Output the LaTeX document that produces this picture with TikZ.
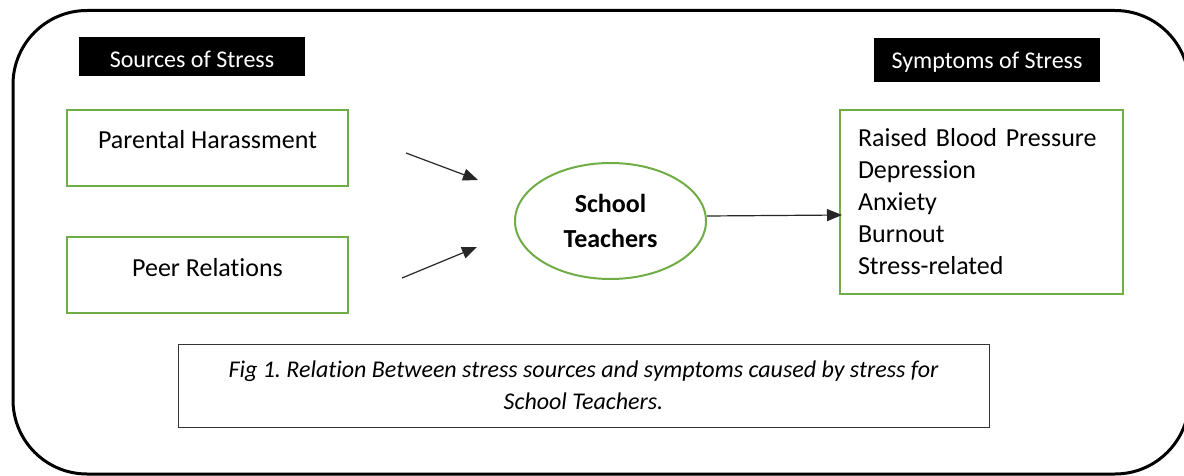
\documentclass[tikz,border=0pt]{standalone}
\usepackage{fontspec}
\setmainfont[Ligatures=NoCommon]{Carlito}
\usepackage{tikz}
\usetikzlibrary{arrows.meta,shapes.geometric}
\definecolor{boxgreen}{RGB}{112,173,71}
\tikzstyle{frame}=[draw,line width=3pt,rounded corners=74pt]
\tikzstyle{head}=[fill=black,text=white,minimum width=226pt,minimum height=39pt,inner sep=0pt,font=\fontsize{24}{28}\selectfont]
\tikzstyle{src}=[draw=boxgreen,line width=2pt,minimum width=281pt,minimum height=76pt,inner sep=0pt,text height=18pt,text depth=18pt,font=\fontsize{26}{32}\selectfont]
\tikzstyle{focus}=[ellipse,draw=boxgreen,line width=2pt,minimum width=191pt,minimum height=116pt,inner sep=0pt,align=center,font=\bfseries\fontsize{26}{35}\selectfont]
\tikzstyle{effect}=[draw=boxgreen,line width=2pt,minimum width=283pt,minimum height=184pt,inner xsep=18pt,text width=247pt,font=\fontsize{26}{32}\selectfont]
\tikzstyle{caption}=[draw=black!80,line width=1pt,minimum width=811pt,minimum height=83pt,align=center,font=\itshape\fontsize{24}{32}\selectfont]
\tikzstyle{arr}=[-{Triangle[length=15pt,width=12pt]},draw,line width=1.2pt,black!85]

\begin{document}
\frenchspacing
\begin{tikzpicture}[x=1pt,y=-1pt]
      \useasboundingbox (0,0) rectangle (1184,476);
      \draw[frame] (13,10.5) rectangle (1189,474);
      \node[head,text height=22pt,text depth=0pt] (sources) at (192,57) {Sources of Stress};
      \node[head,text height=18pt,text depth=0pt,minimum height=44pt] (symhead) at (987,60) {Symptoms of Stress};
      \node[src] (parental) at (207.5,148.5) {Parental Harassment};
      \node[src,text depth=15pt] (peer) at (207.5,274.5) {Peer Relations};
      \node[focus] (teachers) at (610.5,221) {School\\Teachers};
      \node[effect] (symptoms) at (981.5,202) {\noindent Raised Blood Pressure\\Depression\\Anxiety\\Burnout\\Stress-related};
      \node[caption] (fig) at (583.5,385.5) {Fig 1. Relation Between stress sources and symptoms caused by stress for\\School Teachers.};
      \coordinate (ph-out) at (406,153);
      \coordinate (pr-out) at (402,278);
      \coordinate (st-in1) at (478,180);
      \coordinate (st-in2) at (477,247);
      \draw[arr] (ph-out) -- (st-in1);
      \draw[arr] (pr-out) -- (st-in2);
      \draw[arr] ([yshift=5pt]teachers.east) -- ([yshift=-13pt,xshift=3pt]symptoms.west);
  \end{tikzpicture}
\end{document}
